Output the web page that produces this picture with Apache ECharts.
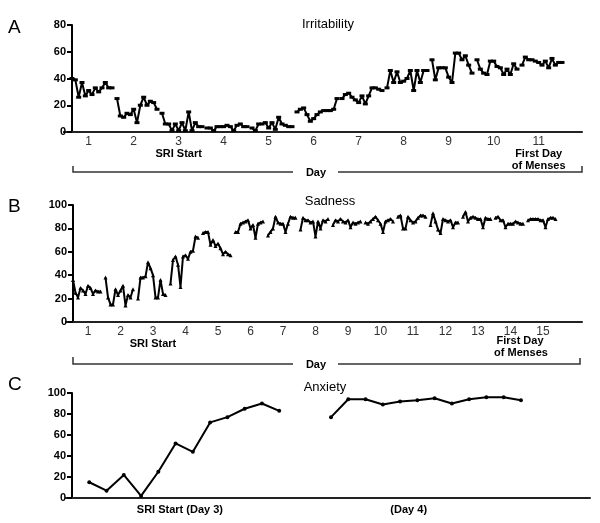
<!DOCTYPE html>
<html><head><meta charset="utf-8">
<script src="https://cdn.jsdelivr.net/npm/echarts@6/dist/echarts.min.js"></script>
<style>html,body{margin:0;padding:0;background:#fff}#c{width:600px;height:523px}</style>
</head><body><div id="c"></div>
<script>
// ---------- DATA ----------
const irritabilityDays = [
  [40, 39, 26, 37, 27, 31, 28, 33, 30, 33, 37, 33, 33],
  [25, 12, 11, 14, 13, 17, 7, 20, 26, 20, 23, 22, 17],
  [14, 6, 6, 1, 6, 1, 7, 1, 15, 1, 7, 4, 4],
  [3, 3, 1, 4, 4, 4, 5, 4, 1, 5, 6, 4, 4],
  [3, 1, 6, 6, 7, 3, 7, 2, 11, 6, 5, 4, 4],
  [15, 17, 18, 13, 8, 10, 13, 15, 16, 16, 16, 17, 25],
  [25, 28, 29, 26, 24, 22, 27, 21, 27, 33, 33, 32, 31],
  [33, 46, 37, 45, 37, 38, 40, 46, 31, 46, 37, 46, 46],
  [54, 39, 48, 48, 48, 41, 37, 59, 59, 54, 57, 50, 44],
  [54, 47, 44, 43, 53, 53, 49, 48, 43, 47, 43, 51, 47],
  [50, 56, 54, 54, 53, 52, 50, 53, 48, 55, 50, 52, 52]
];
const sadnessDays = [
  [36, 25, 21, 29, 27, 24, 31, 29, 24, 27, 26, 26],
  [38, 21, 15, 15, 28, 23, 27, 31, 14, 23, 21, 28],
  [20, 38, 38, 39, 51, 46, 40, 21, 21, 36, 24, 23],
  [33, 53, 56, 49, 30, 56, 57, 54, 60, 61, 73, 72],
  [76, 77, 77, 66, 70, 65, 67, 63, 58, 60, 58, 57],
  [77, 77, 84, 85, 86, 87, 80, 83, 72, 84, 85, 86],
  [74, 77, 80, 90, 85, 84, 84, 77, 84, 90, 89, 89],
  [79, 89, 87, 87, 85, 86, 73, 86, 80, 87, 86, 88],
  [83, 87, 86, 88, 86, 85, 87, 81, 85, 84, 85, 86],
  [85, 84, 86, 88, 90, 87, 84, 77, 86, 87, 88, 86],
  [90, 91, 80, 80, 90, 87, 85, 86, 89, 91, 91, 90],
  [83, 93, 86, 79, 76, 88, 87, 86, 87, 81, 85, 85],
  [90, 94, 86, 89, 90, 89, 88, 88, 81, 89, 88, 88],
  [89, 90, 87, 87, 81, 84, 84, 84, 86, 85, 84, 84],
  [87, 88, 88, 88, 88, 87, 87, 81, 88, 89, 89, 88]
];
const anxietyDay3 = [15, 7, 22, 2, 25, 52, 44, 72, 77, 85, 90, 83];
const anxietyDay4 = [77, 94, 94, 89, 92, 93, 95, 90, 94, 96, 96, 93];

const irritabilityTickLabels = ['1','2','3','4','5','6','7','8','9','10','11'];
const sadnessTickLabels = ['1','2','3','4','5','6','7','8','9','10','11','12','13','14','15'];
const anxietyTickLabels = ['SRI Start (Day 3)', '(Day 4)'];
const sriStartDay = '3';
const mensesDayA = '11';

// ---------- LAYOUT HELPERS ----------
const A_W = 13.5, A_OFF = 5;   // axis units per day, label offset
const B_W = 13, B_OFF = 6;
const C_GAP = 14;

const chart = echarts.init(document.getElementById('c'));
const font = 'Arial, "Liberation Sans", sans-serif';

function yAxisCfg(gridIndex, max) {
  return {
    type: 'value', gridIndex, min: 0, max, interval: 20,
    axisLine: { show: true, onZero: false, lineStyle: { color: '#000', width: 2 } },
    axisTick: { show: true, inside: false, length: 5, lineStyle: { color: '#000', width: 2 } },
    splitLine: { show: false },
    axisLabel: { color: '#000', fontWeight: 'bold', fontSize: 11, fontFamily: font, margin: 6 }
  };
}

const tickPosA = irritabilityTickLabels.map((_, d) => d * A_W + A_OFF);
const tickPosB = sadnessTickLabels.map((_, d) => d * B_W + B_OFF);
const tickPosC = [5.25, C_GAP + 4.5];

function dayLabelFormatter(labels, pos, mensesDay) {
  return function (v) {
    let i = pos.findIndex(p => Math.abs(p - v) < 1e-6);
    if (i < 0) return '';
    const t = labels[i];
    if (t === sriStartDay) return t + '\n{b|SRI Start}';
    if (mensesDay && t === mensesDay) return t + '\n{b|First Day}\n{b|of Menses}';
    return t;
  };
}

const boldRich = { color: '#000', fontWeight: 'bold', fontSize: 11, fontFamily: font, lineHeight: 12 };
const xLabelBase = {
  color: '#333', fontSize: 12, fontFamily: font, margin: 4, lineHeight: 12,
  hideOverlap: false, showMinLabel: true, showMaxLabel: true,
  rich: { b: boldRich }
};

const series = [];
irritabilityDays.forEach((day, d) => {
  series.push({
    type: 'line', xAxisIndex: 0, yAxisIndex: 0,
    data: day.map((v, j) => [d * A_W + j, v]),
    symbol: 'rect', symbolSize: [5, 3],
    lineStyle: { color: '#000', width: 2 }, itemStyle: { color: '#000' },
    silent: true, animation: false
  });
});
sadnessDays.forEach((day, d) => {
  series.push({
    type: 'line', xAxisIndex: 1, yAxisIndex: 1,
    data: day.map((v, j) => [d * B_W + j, v]),
    symbol: 'triangle', symbolSize: 4,
    lineStyle: { color: '#000', width: 2 }, itemStyle: { color: '#000' },
    silent: true, animation: false
  });
});
[anxietyDay3, anxietyDay4].forEach((seg, s) => {
  series.push({
    type: 'line', xAxisIndex: 2, yAxisIndex: 2,
    data: seg.map((v, j) => [s * C_GAP + j, v]),
    symbol: 'circle', symbolSize: 4,
    lineStyle: { color: '#000', width: 2 }, itemStyle: { color: '#000' },
    silent: true, animation: false
  });
});

const titleStyle = { color: '#000', fontSize: 13, fontWeight: 'normal', fontFamily: font };
const bracketStyle = { stroke: '#333', lineWidth: 1.5, fill: null };
const axisStub = { stroke: '#222', lineWidth: 2 };
const noteStyle = { fontSize: 11, fontWeight: 'bold', fontFamily: font, fill: '#000', align: 'center', verticalAlign: 'middle' };

chart.setOption({
  animation: false,
  backgroundColor: '#fff',
  title: [
    { text: 'Irritability', left: 323, top: 13, textAlign: 'center', textStyle: titleStyle },
    { text: 'Sadness', left: 325, top: 190, textAlign: 'center', textStyle: titleStyle },
    { text: 'Anxiety', left: 320, top: 376, textAlign: 'center', textStyle: titleStyle }
  ],
  grid: [
    { left: 72, top: 25, width: 510, height: 107 },
    { left: 73, top: 205, width: 509, height: 117 },
    { left: 72, top: 393, width: 518, height: 105 }
  ],
  xAxis: [
    {
      type: 'value', gridIndex: 0, min: 0, max: 153,
      axisLine: { show: true, lineStyle: { color: '#222', width: 2 } },
      axisTick: { show: false }, splitLine: { show: false },
      axisLabel: Object.assign({}, xLabelBase, {
        customValues: tickPosA,
        formatter: dayLabelFormatter(irritabilityTickLabels, tickPosA, mensesDayA)
      })
    },
    {
      type: 'value', gridIndex: 1, min: 0, max: 203.6,
      axisLine: { show: true, lineStyle: { color: '#222', width: 2 } },
      axisTick: { show: false }, splitLine: { show: false },
      axisLabel: Object.assign({}, xLabelBase, {
        customValues: tickPosB,
        formatter: dayLabelFormatter(sadnessTickLabels, tickPosB, null)
      })
    },
    {
      type: 'value', gridIndex: 2, min: -1, max: 29,
      axisLine: { show: true, onZero: false, lineStyle: { color: '#222', width: 2 } },
      axisTick: { show: false }, splitLine: { show: false },
      axisLabel: {
        color: '#000', fontWeight: 'bold', fontSize: 11, fontFamily: font, margin: 6,
        hideOverlap: false, showMinLabel: true, showMaxLabel: true,
        customValues: tickPosC,
        formatter: function (v) {
          const i = tickPosC.findIndex(p => Math.abs(p - v) < 1e-6);
          return i < 0 ? '' : anxietyTickLabels[i];
        }
      }
    }
  ],
  yAxis: [yAxisCfg(0, 80), yAxisCfg(1, 100), yAxisCfg(2, 100)],
  series,
  graphic: [
    { type: 'text', left: 8, top: 18, style: { text: 'A', fontSize: 19, fontFamily: font, fill: '#000' } },
    { type: 'text', left: 8, top: 197, style: { text: 'B', fontSize: 19, fontFamily: font, fill: '#000' } },
    { type: 'text', left: 8, top: 375, style: { text: 'C', fontSize: 19, fontFamily: font, fill: '#000' } },
    { type: 'line', shape: { x1: 63, y1: 132, x2: 72, y2: 132 }, style: axisStub },
    { type: 'line', shape: { x1: 65, y1: 322, x2: 73, y2: 322 }, style: axisStub },
    { type: 'line', shape: { x1: 65, y1: 498, x2: 72, y2: 498 }, style: axisStub },
    { type: 'text', x: 520, y: 341, style: Object.assign({ text: 'First Day' }, noteStyle) },
    { type: 'text', x: 521, y: 353, style: Object.assign({ text: 'of Menses' }, noteStyle) },
    { type: 'polyline', shape: { points: [[73, 166], [73, 172], [293, 172]] }, style: bracketStyle },
    { type: 'polyline', shape: { points: [[338, 172], [582, 172], [582, 166]] }, style: bracketStyle },
    { type: 'text', x: 316, y: 173, style: Object.assign({ text: 'Day' }, noteStyle) },
    { type: 'polyline', shape: { points: [[73, 357], [73, 364], [293, 364]] }, style: bracketStyle },
    { type: 'polyline', shape: { points: [[338, 364], [580, 364], [580, 358]] }, style: bracketStyle },
    { type: 'text', x: 316, y: 365, style: Object.assign({ text: 'Day' }, noteStyle) }
  ]
});
</script>
</body></html>
